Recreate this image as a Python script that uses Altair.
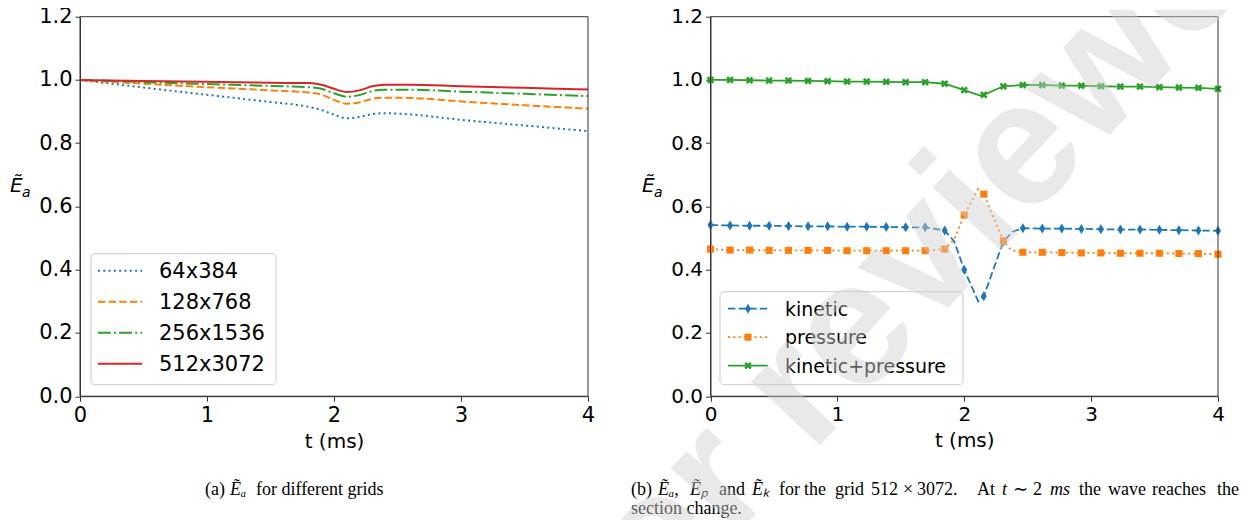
import altair as alt
import pandas as pd

# ---------------- data: (a) energy for different grids ----------------
t_grid = [0.0, 0.25, 0.5, 1.0, 1.5, 1.8, 1.9, 2.0, 2.1, 2.2, 2.3, 2.4, 2.6, 3.0, 3.5, 4.0]
e_64 = [1.000, 0.988, 0.976, 0.953, 0.930, 0.915, 0.905, 0.890, 0.879, 0.883, 0.892, 0.895, 0.891, 0.874, 0.856, 0.838]
e_128 = [1.000, 0.994, 0.988, 0.977, 0.967, 0.960, 0.954, 0.937, 0.925, 0.929, 0.940, 0.944, 0.943, 0.932, 0.920, 0.909]
e_256 = [1.000, 0.997, 0.993, 0.987, 0.981, 0.977, 0.972, 0.958, 0.947, 0.952, 0.965, 0.969, 0.969, 0.963, 0.956, 0.949]
e_512 = [1.000, 0.998, 0.997, 0.994, 0.991, 0.990, 0.985, 0.972, 0.962, 0.967, 0.980, 0.985, 0.985, 0.980, 0.975, 0.970]
grid_names = ["64x384", "128x768", "256x1536", "512x3072"]

# ---------------- data: (b) kinetic / pressure / total ----------------
t_mark = [0.0, 0.154, 0.308, 0.462, 0.615, 0.769, 0.923, 1.077, 1.231, 1.385, 1.538, 1.692, 1.846,
          2.0, 2.154, 2.308, 2.462, 2.615, 2.769, 2.923, 3.077, 3.231, 3.385, 3.538, 3.692, 3.846, 4.0]
kinetic = [0.541, 0.540, 0.539, 0.539, 0.538, 0.537, 0.537, 0.536, 0.536, 0.535, 0.534, 0.534, 0.524,
           0.400, 0.316, 0.489, 0.531, 0.530, 0.530, 0.529, 0.528, 0.527, 0.527, 0.526, 0.525, 0.524, 0.523]
pressure = [0.465, 0.462, 0.462, 0.461, 0.461, 0.461, 0.461, 0.460, 0.460, 0.460, 0.460, 0.460, 0.465,
            0.573, 0.639, 0.491, 0.455, 0.455, 0.454, 0.453, 0.453, 0.452, 0.452, 0.452, 0.451, 0.451, 0.449]
total = [1.000, 1.000, 0.999, 0.998, 0.998, 0.997, 0.996, 0.995, 0.995, 0.994, 0.993, 0.993, 0.988,
         0.968, 0.953, 0.980, 0.984, 0.984, 0.982, 0.982, 0.980, 0.979, 0.979, 0.977, 0.976, 0.975, 0.972]
# extra points on the curves between markers (peaks / crossings)
kinetic_extra_t = [1.92, 2.11, 2.38]
kinetic_extra = [0.490, 0.300, 0.520]
pressure_extra_t = [1.92, 2.11, 2.37]
pressure_extra = [0.495, 0.655, 0.462]
total_extra_t = [2.12]
total_extra = [0.951]
series_names = ["kinetic", "pressure", "kinetic+pressure"]

x_ticks = [0, 1, 2, 3, 4]
y_ticks = [0.0, 0.2, 0.4, 0.6, 0.8, 1.0, 1.2]

BLUE, ORANGE, GREEN, RED = "#1f77b4", "#ff7f0e", "#2ca02c", "#d62728"
SANS = "DejaVu Sans"
SERIF = "Liberation Serif"
DUMMY = alt.Data(values=[{"d": 0}])

LW, RW, H = 612, 622, 512
Y_RANGE = [386.5, 7]
X_OFFSET = -(H - Y_RANGE[0])

THIN_DIAMOND = "M0,-1L0.6,0L0,1L-0.6,0Z"
FILLED_X = "M-1,-0.5L-0.5,-1L0,-0.5L0.5,-1L1,-0.5L0.5,0L1,0.5L0.5,1L0,0.5L-0.5,1L-1,0.5L-0.5,0Z"


def encs(xr, fs):
    x = alt.X("t:Q", scale=alt.Scale(domain=[0, 4], range=xr, nice=False, zero=False),
              axis=alt.Axis(values=x_ticks, format="d", title="t (ms)", offset=X_OFFSET,
                            grid=False, domainColor="#333", tickColor="#333", tickSize=5,
                            labelFont=SANS, labelFontSize=fs, labelColor="black", labelPadding=3,
                            labelFlush=False, labelOverlap=False,
                            titleFont=SANS, titleFontSize=20, titleFontWeight="normal",
                            titleColor="black", titlePadding=6))
    y = alt.Y("v:Q", scale=alt.Scale(domain=[0, 1.2], range=Y_RANGE, nice=False, zero=False),
              axis=alt.Axis(values=y_ticks, format=".1f", title=None, offset=-xr[0],
                            grid=False, domainColor="#333", tickColor="#333", tickSize=5,
                            labelFont=SANS, labelFontSize=fs, labelColor="black", labelPadding=3,
                            labelFlush=False, labelOverlap=False))
    return x, y


def ptext(txt, x, y, size, font=SANS, style="normal", align="left", color="black"):
    return alt.Chart(DUMMY).mark_text(text=txt, font=font, fontSize=size, fontStyle=style,
                                      align=align, baseline="alphabetic", color=color
                                      ).encode(x=alt.value(x), y=alt.value(y))


def frame(x, y):
    df = pd.DataFrame({"t": [0], "v": [0], "t2": [4], "v2": [1.2]})
    return alt.Chart(df).mark_rect(filled=False, stroke="#333", strokeWidth=1).encode(
        x=x, x2="t2:Q", y=y, y2="v2:Q")


def legend_box(x0, x1, y0, y1):
    return alt.Chart(DUMMY).mark_rect(fill="white", fillOpacity=0.8, stroke="#cccccc",
                                      strokeWidth=1, cornerRadius=4).encode(
        x=alt.value(x0), x2=alt.value(x1), y=alt.value(y0), y2=alt.value(y1))


def legend_line(x0, x1, y, color, dash=None, width=2):
    kw = dict(color=color, strokeWidth=width)
    if dash:
        kw["strokeDash"] = dash
    return alt.Chart(DUMMY).mark_rule(**kw).encode(x=alt.value(x0), x2=alt.value(x1), y=alt.value(y))


# ====================== left panel ======================
xL, yL = encs([72, 580], 21)
left_series = [
    (e_64, BLUE, [2, 3.3]),
    (e_128, ORANGE, [7.4, 3.2]),
    (e_256, GREEN, [12.8, 3.2, 2, 3.2]),
    (e_512, RED, None),
]
left_layers = []
for vals, col, dash in left_series:
    df = pd.DataFrame({"t": t_grid, "v": vals})
    kw = dict(color=col, strokeWidth=2, interpolate="monotone")
    if dash:
        kw["strokeDash"] = dash
    left_layers.append(alt.Chart(df).mark_line(**kw).encode(x=xL, y=yL))
left_layers.append(frame(xL, yL))
left_layers.append(legend_box(83, 268, 244, 375))
for i, (name, (vals, col, dash)) in enumerate(zip(grid_names, left_series)):
    ry = 261 + i * 31
    left_layers.append(legend_line(90, 134, ry, col, dash))
    left_layers.append(ptext(name, 151, ry + 7.5, 21))
left_layers.append(ptext("Ẽ", 2, 182, 20, style="italic"))
left_layers.append(ptext("a", 14, 187, 14, style="italic"))
# caption (a)
left_layers.append(ptext("(a)", 197, 485, 18, font=SERIF))
left_layers.append(ptext("Ẽₐ", 222, 485, 18, font=SERIF, style="italic"))
left_layers.append(ptext("for different grids", 248, 485, 18, font=SERIF))
left = alt.layer(*left_layers).properties(width=LW, height=H)

# ====================== right panel ======================
xR, yR = encs([90.5, 598], 20)


def merged(tm, vm, te, ve):
    pts = sorted(list(zip(tm, vm)) + list(zip(te, ve)))
    return pd.DataFrame({"t": [p[0] for p in pts], "v": [p[1] for p in pts]})


right_series = [
    (merged(t_mark, kinetic, kinetic_extra_t, kinetic_extra), kinetic, BLUE, [7.4, 3.2], THIN_DIAMOND, 100),
    (merged(t_mark, pressure, pressure_extra_t, pressure_extra), pressure, ORANGE, [2, 3.3], "square", 50),
    (merged(t_mark, total, total_extra_t, total_extra), total, GREEN, None, FILLED_X, 56),
]
right_layers = []
for line_df, mvals, col, dash, shape, size in right_series:
    kw = dict(color=col, strokeWidth=1.8)
    if dash:
        kw["strokeDash"] = dash
    right_layers.append(alt.Chart(line_df).mark_line(**kw).encode(x=xR, y=yR))
    mdf = pd.DataFrame({"t": t_mark, "v": mvals})
    right_layers.append(alt.Chart(mdf).mark_point(shape=shape, filled=True, size=size, color=col,
                                                  opacity=1, strokeWidth=0).encode(x=xR, y=yR))
right_layers.append(frame(xR, yR))
right_layers.append(legend_box(100, 343, 282, 375))
for i, (name, (line_df, mvals, col, dash, shape, size)) in enumerate(zip(series_names, right_series)):
    ry = 299 + i * 28.5
    right_layers.append(legend_line(108, 148, ry, col, dash, 1.8))
    right_layers.append(alt.Chart(DUMMY).mark_point(shape=shape, filled=True, size=size, color=col,
                                                    opacity=1, strokeWidth=0).encode(
        x=alt.value(128), y=alt.value(ry)))
    right_layers.append(ptext(name, 165, ry + 7, 19))
right_layers.append(ptext("Ẽ", 22, 182, 20, style="italic"))
right_layers.append(ptext("a", 34, 187, 14, style="italic"))
# caption (b), justified words
cap_words = [("(b)", 631, "normal"), ("Ẽₐ,", 658, "italic"), ("Ẽₚ", 690, "italic"), ("and", 719, "normal"),
             ("Ẽₖ", 752, "italic"), ("for", 779, "normal"), ("the", 804, "normal"), ("grid", 835, "normal"),
             ("512", 871, "normal"), ("×", 903, "normal"), ("3072.", 917, "normal"), ("At", 977, "normal"),
             ("t", 1002, "italic"), ("∼", 1013, "normal"), ("2", 1033, "normal"), ("ms", 1050, "italic"),
             ("the", 1079, "normal"), ("wave", 1108, "normal"), ("reaches", 1152, "normal"),
             ("the", 1217, "normal")]
for w, px, st in cap_words:
    right_layers.append(ptext(w, px - 620, 485, 18, font=SERIF, style=st))
right_layers.append(ptext("section change.", 631 - 620, 504, 18, font=SERIF))
# watermark
right_layers.append(alt.Chart(DUMMY).mark_text(text="peer reviewed", font="Liberation Sans",
                                               fontWeight="bold", fontSize=177,
                                               angle=313, align="left", baseline="alphabetic",
                                               color="#cfcfcf", opacity=0.45, clip=True).encode(
    x=alt.value(523 - 620), y=alt.value(762 - 8)))
right = alt.layer(*right_layers).properties(width=RW, height=H)

chart = alt.hconcat(left, right, spacing=0).properties(
    padding={"left": 0, "top": -2.3, "right": 0, "bottom": 0}
).configure_view(strokeWidth=0)

chart.save("out.html", embed_options={"renderer": "svg", "actions": False})
